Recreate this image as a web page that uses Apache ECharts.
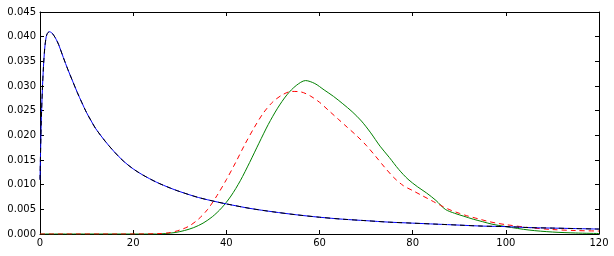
<!DOCTYPE html>
<html><head><meta charset="utf-8">
<script src="https://cdn.jsdelivr.net/npm/echarts@6/dist/echarts.min.js"></script>
<style>html,body{margin:0;padding:0;background:#fff}#c{width:614px;height:256px}</style>
</head><body><div id="c"></div>
<script>
var xTicks = [0, 20, 40, 60, 80, 100, 120];
var yTicks = [0, 0.005, 0.01, 0.015, 0.02, 0.025, 0.03, 0.035, 0.04, 0.045];

var blueX = [0,0.25,0.5,0.75,1,1.25,1.5,2,2.5,3,3.5,4,5,6,7,8,9,10,11,12,14,16,18,20,22,25,28,30,34,38,40,45,50,55,60,65,70,75,80,85,90,95,100,105,110,115,120];
var blueY = [0.011,0.022,0.029,0.034,0.0375,0.0395,0.0405,0.041,0.0408,0.0402,0.0394,0.0384,0.0358,0.0333,0.0310,0.0287,0.0266,0.0246,0.0229,0.0213,0.0188,0.0166,0.0147,0.0132,0.0120,0.0105,0.0093,0.0086,0.0074,0.0065,0.0061,0.0052,0.0045,0.0039,0.0034,0.0030,0.0027,0.0024,0.0022,0.0020,0.0018,0.0016,0.0015,0.0013,0.0012,0.0011,0.0010];
var blackX = blueX.slice();
var blackY = blueY.slice();

var greenX = [0,10,20,25,27,29,31,33,35,37,39,41,43,45,47,49,51,53,55,57,59,61,63,65,67,69,71,73,75,77,79,81,83,85,87,89,91,93,95,97,100,105,110,115,120];
var greenY = [0,0,0,0,0.0001,0.0003,0.0007,0.0013,0.0022,0.0035,0.0053,0.0077,0.0108,0.0145,0.0184,0.0222,0.0255,0.0282,0.0301,0.0311,0.0305,0.0292,0.0279,0.0264,0.0248,0.0229,0.0205,0.0178,0.0155,0.0131,0.0111,0.0096,0.0083,0.0068,0.0050,0.0042,0.0036,0.0030,0.0025,0.0020,0.0015,0.0008,0.0004,0.0002,0.0001];

var redX = [0,20,26,28,30,32,34,36,38,40,42,44,46,48,50,52,54,56,58,60,62,64,66,68,70,72,74,76,78,80,82,84,86,88,90,92,94,96,98,100,105,110,115,120];
var redY = [0,0,0.0001,0.0003,0.0008,0.0016,0.0030,0.0050,0.0078,0.0110,0.0145,0.0182,0.0216,0.0246,0.0268,0.0282,0.0289,0.0288,0.0280,0.0267,0.0250,0.0233,0.0216,0.0199,0.0180,0.0158,0.0135,0.0114,0.0098,0.0088,0.0078,0.0068,0.0058,0.0049,0.0042,0.0036,0.0031,0.0026,0.0022,0.0019,0.0013,0.0009,0.0007,0.0006];

function pairs(xs, ys){ return xs.map(function(x,i){ return [x, ys[i]]; }); }

var font = 'DejaVu Sans';
var chart = echarts.init(document.getElementById('c'), null, {renderer:'canvas'});
var axLine = {show:true, onZero:false, lineStyle:{color:'#000', width:1}};
var tickIn = {show:true, inside:true, length:4, lineStyle:{color:'#000', width:1}};
chart.setOption({
  animation:false,
  grid:{left:40, right:15, top:12, bottom:22, containLabel:false},
  xAxis:[
    {type:'value', min:xTicks[0], max:xTicks[xTicks.length-1], interval:20, position:'bottom',
     axisLine:axLine, axisTick:tickIn, splitLine:{show:false},
     axisLabel:{color:'#000', fontFamily:font, fontSize:10, margin:4}},
    {type:'value', min:xTicks[0], max:xTicks[xTicks.length-1], interval:20, position:'top',
     axisLine:axLine, axisTick:tickIn, splitLine:{show:false}, axisLabel:{show:false}}
  ],
  yAxis:[
    {type:'value', min:yTicks[0], max:yTicks[yTicks.length-1], interval:0.005, position:'left',
     axisLine:axLine, axisTick:tickIn, splitLine:{show:false},
     axisLabel:{color:'#000', fontFamily:font, fontSize:10, margin:4, formatter:function(v){return v.toFixed(3);}}},
    {type:'value', min:yTicks[0], max:yTicks[yTicks.length-1], interval:0.005, position:'right',
     axisLine:axLine, axisTick:tickIn, splitLine:{show:false}, axisLabel:{show:false}}
  ],
  series:[
    {type:'line', data:pairs(greenX, greenY), smooth:0.3, showSymbol:false, lineStyle:{color:'#008000', width:1}, z:2},
    {type:'line', data:pairs(redX, redY), smooth:0.3, showSymbol:false, lineStyle:{color:'#ff0000', width:1, type:[5,4]}, z:3},
    {type:'line', data:pairs(blueX, blueY), smooth:0.3, showSymbol:false, lineStyle:{color:'#0000ff', width:1}, z:4},
    {type:'line', data:pairs(blackX, blackY), smooth:0.3, showSymbol:false, lineStyle:{color:'#000000', width:1, type:[5,4]}, z:5}
  ]
});
</script></body></html>
